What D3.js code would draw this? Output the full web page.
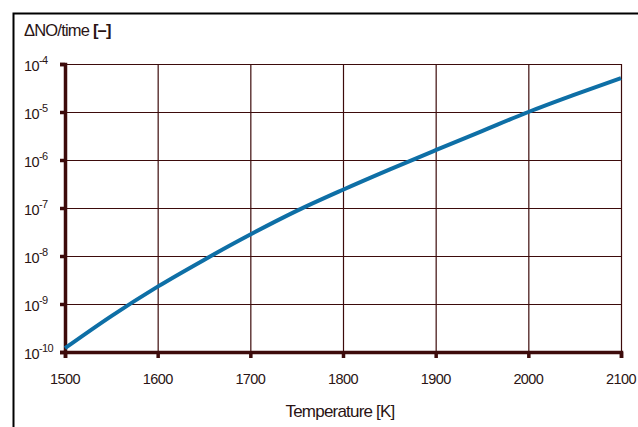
<!DOCTYPE html>
<html>
<head>
<meta charset="utf-8">
<script src="https://cdn.jsdelivr.net/npm/d3@7"></script>
<style>
body{margin:0;background:#fff;}
text{font-family:"Liberation Sans",Arial,sans-serif;fill:#2a1414;}
</style>
</head>
<body>
<div class="chart"></div>
<script>
// data
var temps=[1500,1550,1600,1650,1700,1750,1800,1850,1900,1950,2000,2050,2100];
var rates=[1.2e-10,5.6e-10,2.3e-9,8.3e-9,2.8e-8,8.7e-8,2.4e-7,6.3e-7,1.6e-6,4.0e-6,1.0e-5,2.3e-5,5.1e-5];
var xTicks=[1500,1600,1700,1800,1900,2000,2100];
var yExps=[-4,-5,-6,-7,-8,-9,-10];

var width=638;
var height=427;
var axisCol='#3d0b0b';

var svg=d3.select('div.chart')
		.append('svg')
		.attr('width',width)
		.attr('height',height);

// outer frame (left + top only)
svg.append('path')
	.attr('d','M13.5,427 V13.5 H638')
	.attr('fill','none')
	.attr('stroke','#000')
	.attr('stroke-width',2);

var xScale=d3.scaleLinear()
			.domain([1500,2100])
			.range([65,621]);
var yScale=d3.scaleLog()
			.domain([1e-10,1e-4])
			.range([352,64]);

let g=svg.append('g');

// grid
g.selectAll('line.vg')
	.data(xTicks)
	.enter()
	.append('line')
	.attr('x1',d=>xScale(d)+0.5)
	.attr('x2',d=>xScale(d)+0.5)
	.attr('y1',yScale(1e-4))
	.attr('y2',yScale(1e-10))
	.attr('stroke',axisCol)
	.attr('stroke-width',1.2);
g.selectAll('line.hg')
	.data(yExps)
	.enter()
	.append('line')
	.attr('x1',xScale(1500))
	.attr('x2',xScale(2100)+0.5)
	.attr('y1',d=>yScale(Math.pow(10,d))+0.5)
	.attr('y2',d=>yScale(Math.pow(10,d))+0.5)
	.attr('stroke',axisCol)
	.attr('stroke-width',1.2);

// left axis
var yAxis=d3.axisLeft(yScale)
			.tickValues(yExps.map(e=>Math.pow(10,e)))
			.tickSize(5)
			.tickFormat('');
var ya=g.append('g')
	.attr('transform','translate('+xScale(1500)+',0)')
	.call(yAxis);
ya.select('.domain').attr('stroke',axisCol).attr('stroke-width',3.5);
ya.selectAll('.tick line').attr('stroke',axisCol).attr('stroke-width',3.5);

// bottom axis
var xAxis=d3.axisBottom(xScale)
			.tickValues(xTicks)
			.tickSize(6)
			.tickFormat('');
var xa=g.append('g')
	.attr('transform','translate(0,'+yScale(1e-10)+')')
	.call(xAxis);
xa.select('.domain').attr('stroke',axisCol).attr('stroke-width',3.5);
xa.selectAll('.tick line').attr('stroke',axisCol).attr('stroke-width',3.5);

// tick labels
g.selectAll('text.xl')
	.data(xTicks)
	.enter()
	.append('text')
	.attr('x',d=>xScale(d))
	.attr('y',384)
	.attr('text-anchor','middle')
	.attr('font-size','14.5px')
	.attr('letter-spacing','-0.6px')
	.text(d=>d);

var yl=g.selectAll('text.yl')
	.data(yExps)
	.enter()
	.append('text')
	.attr('x',24)
	.attr('y',d=>yScale(Math.pow(10,d))+7)
	.attr('font-size','14.5px')
	.attr('letter-spacing','-0.6px');
yl.append('tspan').text('10');
yl.append('tspan')
	.attr('dy',-7)
	.attr('font-size','11px')
	.text(d=>'-'+Math.abs(d));

// curve
var line=d3.line()
		.x((d,i)=>xScale(temps[i]))
		.y(d=>yScale(d))
		.curve(d3.curveMonotoneX);
g.append('path')
	.datum(rates)
	.attr('d',line)
	.attr('fill','none')
	.attr('stroke','#0e6fa6')
	.attr('stroke-width',4);

// axis titles
var yt=svg.append('text')
	.attr('x',24)
	.attr('y',36)
	.attr('font-size','16.5px')
	.attr('letter-spacing','-0.8px');
yt.append('tspan').text('\u0394NO/time ');
yt.append('tspan').attr('font-weight','bold').text('[\u2013]');

var xt=svg.append('text')
	.attr('x',340)
	.attr('y',417)
	.attr('text-anchor','middle')
	.attr('font-size','17px')
	.attr('letter-spacing','-0.8px');
xt.append('tspan').text('Temperature ');
xt.append('tspan').text('[K]');
</script>
</body>
</html>
